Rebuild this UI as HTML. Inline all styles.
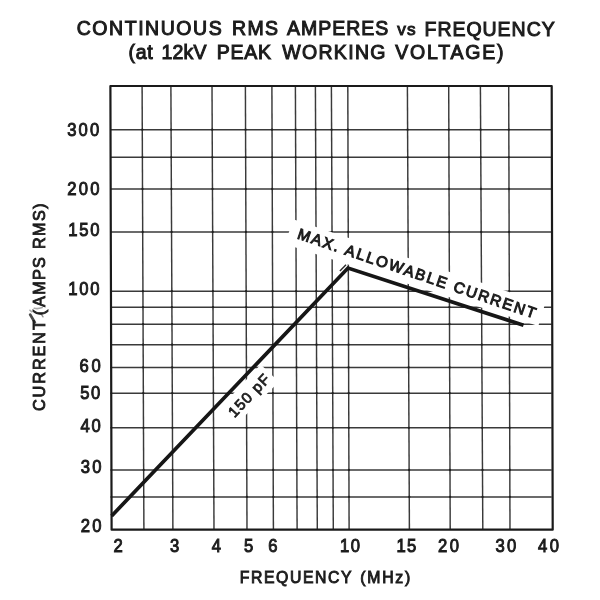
<!DOCTYPE html>
<html><head><meta charset="utf-8"><title>Continuous RMS Amperes vs Frequency</title>
<style>html,body{margin:0;padding:0;background:#fff;width:600px;height:600px;overflow:hidden}svg{display:block;filter:blur(0.35px)}</style>
</head><body>
<svg width="600" height="600" viewBox="0 0 600 600">
<g stroke="#3a3a3a" stroke-width="1.45"><line x1="142.1" y1="86.0" x2="143.9" y2="529.7"/><line x1="170.9" y1="86.0" x2="172.9" y2="529.7"/><line x1="212.0" y1="86.0" x2="214.0" y2="529.7"/><line x1="245.4" y1="86.0" x2="247.0" y2="529.7"/><line x1="271.9" y1="86.0" x2="273.4" y2="529.7"/><line x1="295.4" y1="86.0" x2="297.1" y2="529.7"/><line x1="315.4" y1="86.0" x2="317.3" y2="529.7"/><line x1="331.4" y1="86.0" x2="333.3" y2="529.7"/><line x1="347.8" y1="86.0" x2="349.1" y2="529.7"/><line x1="407.4" y1="86.0" x2="409.4" y2="529.7"/><line x1="448.7" y1="86.0" x2="450.2" y2="529.7"/><line x1="480.4" y1="86.0" x2="482.8" y2="529.7"/><line x1="508.7" y1="86.0" x2="510.0" y2="529.7"/><line x1="110.4" y1="129.7" x2="551.7" y2="129.7"/><line x1="110.4" y1="157.3" x2="551.7" y2="157.3"/><line x1="110.4" y1="189.0" x2="551.7" y2="189.0"/><line x1="110.4" y1="232.0" x2="551.7" y2="232.0"/><line x1="110.4" y1="291.2" x2="551.7" y2="291.2"/><line x1="110.4" y1="307.2" x2="551.7" y2="307.2"/><line x1="110.4" y1="324.2" x2="551.7" y2="324.2"/><line x1="110.4" y1="344.7" x2="551.7" y2="344.7"/><line x1="110.4" y1="367.4" x2="551.7" y2="367.4"/><line x1="110.4" y1="393.2" x2="551.7" y2="393.2"/><line x1="110.4" y1="427.8" x2="551.7" y2="427.8"/><line x1="110.4" y1="470.0" x2="551.7" y2="470.0"/><line x1="110.4" y1="496.9" x2="551.7" y2="496.9"/></g>
<g fill="#202020"><circle cx="142.3" cy="129.7" r="1.15"/><circle cx="142.4" cy="157.3" r="1.15"/><circle cx="142.5" cy="189.0" r="1.15"/><circle cx="142.7" cy="232.0" r="1.15"/><circle cx="142.9" cy="291.2" r="1.15"/><circle cx="143.0" cy="307.2" r="1.15"/><circle cx="143.1" cy="324.2" r="1.15"/><circle cx="143.1" cy="344.7" r="1.15"/><circle cx="143.2" cy="367.4" r="1.15"/><circle cx="143.3" cy="393.2" r="1.15"/><circle cx="143.5" cy="427.8" r="1.15"/><circle cx="143.7" cy="470.0" r="1.15"/><circle cx="143.8" cy="496.9" r="1.15"/><circle cx="171.1" cy="129.7" r="1.15"/><circle cx="171.2" cy="157.3" r="1.15"/><circle cx="171.4" cy="189.0" r="1.15"/><circle cx="171.6" cy="232.0" r="1.15"/><circle cx="171.8" cy="291.2" r="1.15"/><circle cx="171.9" cy="307.2" r="1.15"/><circle cx="172.0" cy="324.2" r="1.15"/><circle cx="172.1" cy="344.7" r="1.15"/><circle cx="172.2" cy="367.4" r="1.15"/><circle cx="172.3" cy="393.2" r="1.15"/><circle cx="172.4" cy="427.8" r="1.15"/><circle cx="172.6" cy="470.0" r="1.15"/><circle cx="172.8" cy="496.9" r="1.15"/><circle cx="212.2" cy="129.7" r="1.15"/><circle cx="212.3" cy="157.3" r="1.15"/><circle cx="212.5" cy="189.0" r="1.15"/><circle cx="212.7" cy="232.0" r="1.15"/><circle cx="212.9" cy="291.2" r="1.15"/><circle cx="213.0" cy="307.2" r="1.15"/><circle cx="213.1" cy="324.2" r="1.15"/><circle cx="213.2" cy="344.7" r="1.15"/><circle cx="213.3" cy="367.4" r="1.15"/><circle cx="213.4" cy="393.2" r="1.15"/><circle cx="213.5" cy="427.8" r="1.15"/><circle cx="213.7" cy="470.0" r="1.15"/><circle cx="213.9" cy="496.9" r="1.15"/><circle cx="245.6" cy="129.7" r="1.15"/><circle cx="245.7" cy="157.3" r="1.15"/><circle cx="245.8" cy="189.0" r="1.15"/><circle cx="245.9" cy="232.0" r="1.15"/><circle cx="246.1" cy="291.2" r="1.15"/><circle cx="246.2" cy="307.2" r="1.15"/><circle cx="246.3" cy="324.2" r="1.15"/><circle cx="246.3" cy="344.7" r="1.15"/><circle cx="246.4" cy="367.4" r="1.15"/><circle cx="246.5" cy="393.2" r="1.15"/><circle cx="246.6" cy="427.8" r="1.15"/><circle cx="246.8" cy="470.0" r="1.15"/><circle cx="246.9" cy="496.9" r="1.15"/><circle cx="272.0" cy="129.7" r="1.15"/><circle cx="272.1" cy="157.3" r="1.15"/><circle cx="272.2" cy="189.0" r="1.15"/><circle cx="272.4" cy="232.0" r="1.15"/><circle cx="272.6" cy="291.2" r="1.15"/><circle cx="272.6" cy="307.2" r="1.15"/><circle cx="272.7" cy="324.2" r="1.15"/><circle cx="272.8" cy="344.7" r="1.15"/><circle cx="272.9" cy="367.4" r="1.15"/><circle cx="272.9" cy="393.2" r="1.15"/><circle cx="273.1" cy="427.8" r="1.15"/><circle cx="273.2" cy="470.0" r="1.15"/><circle cx="273.3" cy="496.9" r="1.15"/><circle cx="295.6" cy="129.7" r="1.15"/><circle cx="295.7" cy="157.3" r="1.15"/><circle cx="295.8" cy="189.0" r="1.15"/><circle cx="296.0" cy="232.0" r="1.15"/><circle cx="296.2" cy="291.2" r="1.15"/><circle cx="296.2" cy="307.2" r="1.15"/><circle cx="296.3" cy="324.2" r="1.15"/><circle cx="296.4" cy="344.7" r="1.15"/><circle cx="296.5" cy="367.4" r="1.15"/><circle cx="296.6" cy="393.2" r="1.15"/><circle cx="296.7" cy="427.8" r="1.15"/><circle cx="296.9" cy="470.0" r="1.15"/><circle cx="297.0" cy="496.9" r="1.15"/><circle cx="315.6" cy="129.7" r="1.15"/><circle cx="315.7" cy="157.3" r="1.15"/><circle cx="315.8" cy="189.0" r="1.15"/><circle cx="316.0" cy="232.0" r="1.15"/><circle cx="316.3" cy="291.2" r="1.15"/><circle cx="316.3" cy="307.2" r="1.15"/><circle cx="316.4" cy="324.2" r="1.15"/><circle cx="316.5" cy="344.7" r="1.15"/><circle cx="316.6" cy="367.4" r="1.15"/><circle cx="316.7" cy="393.2" r="1.15"/><circle cx="316.9" cy="427.8" r="1.15"/><circle cx="317.0" cy="470.0" r="1.15"/><circle cx="317.2" cy="496.9" r="1.15"/><circle cx="331.6" cy="129.7" r="1.15"/><circle cx="331.7" cy="157.3" r="1.15"/><circle cx="331.8" cy="189.0" r="1.15"/><circle cx="332.0" cy="232.0" r="1.15"/><circle cx="332.3" cy="291.2" r="1.15"/><circle cx="332.3" cy="307.2" r="1.15"/><circle cx="332.4" cy="324.2" r="1.15"/><circle cx="332.5" cy="344.7" r="1.15"/><circle cx="332.6" cy="367.4" r="1.15"/><circle cx="332.7" cy="393.2" r="1.15"/><circle cx="332.9" cy="427.8" r="1.15"/><circle cx="333.0" cy="470.0" r="1.15"/><circle cx="333.2" cy="496.9" r="1.15"/><circle cx="347.9" cy="129.7" r="1.15"/><circle cx="348.0" cy="157.3" r="1.15"/><circle cx="348.1" cy="189.0" r="1.15"/><circle cx="348.2" cy="232.0" r="1.15"/><circle cx="348.4" cy="291.2" r="1.15"/><circle cx="348.4" cy="307.2" r="1.15"/><circle cx="348.5" cy="324.2" r="1.15"/><circle cx="348.6" cy="344.7" r="1.15"/><circle cx="348.6" cy="367.4" r="1.15"/><circle cx="348.7" cy="393.2" r="1.15"/><circle cx="348.8" cy="427.8" r="1.15"/><circle cx="348.9" cy="470.0" r="1.15"/><circle cx="349.0" cy="496.9" r="1.15"/><circle cx="407.6" cy="129.7" r="1.15"/><circle cx="407.7" cy="157.3" r="1.15"/><circle cx="407.9" cy="189.0" r="1.15"/><circle cx="408.1" cy="232.0" r="1.15"/><circle cx="408.3" cy="291.2" r="1.15"/><circle cx="408.4" cy="307.2" r="1.15"/><circle cx="408.5" cy="324.2" r="1.15"/><circle cx="408.6" cy="344.7" r="1.15"/><circle cx="408.7" cy="367.4" r="1.15"/><circle cx="408.8" cy="393.2" r="1.15"/><circle cx="408.9" cy="427.8" r="1.15"/><circle cx="409.1" cy="470.0" r="1.15"/><circle cx="409.3" cy="496.9" r="1.15"/><circle cx="448.8" cy="129.7" r="1.15"/><circle cx="448.9" cy="157.3" r="1.15"/><circle cx="449.0" cy="189.0" r="1.15"/><circle cx="449.2" cy="232.0" r="1.15"/><circle cx="449.4" cy="291.2" r="1.15"/><circle cx="449.4" cy="307.2" r="1.15"/><circle cx="449.5" cy="324.2" r="1.15"/><circle cx="449.6" cy="344.7" r="1.15"/><circle cx="449.7" cy="367.4" r="1.15"/><circle cx="449.7" cy="393.2" r="1.15"/><circle cx="449.9" cy="427.8" r="1.15"/><circle cx="450.0" cy="470.0" r="1.15"/><circle cx="450.1" cy="496.9" r="1.15"/><circle cx="480.6" cy="129.7" r="1.15"/><circle cx="480.8" cy="157.3" r="1.15"/><circle cx="481.0" cy="189.0" r="1.15"/><circle cx="481.2" cy="232.0" r="1.15"/><circle cx="481.5" cy="291.2" r="1.15"/><circle cx="481.6" cy="307.2" r="1.15"/><circle cx="481.7" cy="324.2" r="1.15"/><circle cx="481.8" cy="344.7" r="1.15"/><circle cx="481.9" cy="367.4" r="1.15"/><circle cx="482.1" cy="393.2" r="1.15"/><circle cx="482.2" cy="427.8" r="1.15"/><circle cx="482.5" cy="470.0" r="1.15"/><circle cx="482.6" cy="496.9" r="1.15"/><circle cx="508.8" cy="129.7" r="1.15"/><circle cx="508.9" cy="157.3" r="1.15"/><circle cx="509.0" cy="189.0" r="1.15"/><circle cx="509.1" cy="232.0" r="1.15"/><circle cx="509.3" cy="291.2" r="1.15"/><circle cx="509.3" cy="307.2" r="1.15"/><circle cx="509.4" cy="324.2" r="1.15"/><circle cx="509.5" cy="344.7" r="1.15"/><circle cx="509.5" cy="367.4" r="1.15"/><circle cx="509.6" cy="393.2" r="1.15"/><circle cx="509.7" cy="427.8" r="1.15"/><circle cx="509.8" cy="470.0" r="1.15"/><circle cx="509.9" cy="496.9" r="1.15"/></g>
<polygon points="293.2,219.2 545.0,304.1 538.3,326 285,244.1" fill="#fff"/>
<polygon points="218.3,409.8 260.7,364.4 278.9,381.8 235,425.7" fill="#fff"/>
<path d="M110.4 86.0 L551.7 86.0 L552.7 529.7 L111.6 529.7 Z" fill="none" stroke="#1a1a1a" stroke-width="2.2" stroke-linejoin="round"/>
<path d="M339.9,271.0 L346.0,264.8" stroke="#2a2a2a" stroke-width="1.4" fill="none"/>
<polyline points="111.6,516 348,268 523.5,325.2" fill="none" stroke="#161616" stroke-width="3.7" stroke-linejoin="miter"/>
<g fill="none" stroke-linecap="round"><path d="M34.2,308.3 Q38,309.3 42.2,307.6" stroke="#a8a8a8" stroke-width="1.6"/><path d="M30.2,314.6 L34.8,322.4" stroke="#4a4a4a" stroke-width="2.8"/><path d="M29.8,310.2 L31.8,311.8" stroke="#b0b0b0" stroke-width="1.5"/><path d="M41,313.6 L43,316.8" stroke="#909090" stroke-width="1.4"/></g>
<g font-family="Liberation Sans, Arial, sans-serif" fill="#1c1c1c" stroke="#1c1c1c" stroke-width="0.6">
<text x="76.70" y="34.53" font-size="19.5" letter-spacing="1.55" stroke-width="1.0">CONTINUOUS</text>
<text x="232.00" y="34.85" font-size="19.5" letter-spacing="1.35" stroke-width="1.0">RMS</text>
<text x="287.05" y="35.09" font-size="19.5" letter-spacing="0.96" stroke-width="1.0">AMPERES</text>
<text x="397.30" y="35.30" font-size="17.2" letter-spacing="1.20" stroke-width="1.0">vs</text>
<text x="424.50" y="35.55" font-size="19.5" letter-spacing="0.97" stroke-width="1.0">FREQUENCY</text>
<text x="128.55" y="58.50" font-size="19.5" letter-spacing="0.72" stroke-width="1.0">(at</text>
<text x="161.50" y="58.56" font-size="19.5" letter-spacing="0.17" stroke-width="1.0">12kV</text>
<text x="216.70" y="58.65" font-size="19.5" letter-spacing="0.75" stroke-width="1.0">PEAK</text>
<text x="282.20" y="58.77" font-size="19.5" letter-spacing="1.33" stroke-width="1.0">WORKING</text>
<text x="395.30" y="58.93" font-size="19.5" letter-spacing="1.80" stroke-width="1.0">VOLTAGE)</text>
<text transform="translate(67.25,136.40) scale(0.9,1)" font-size="18.5" letter-spacing="2.36" stroke-width="1.0">300</text>
<text transform="translate(67.30,195.10) scale(0.9,1)" font-size="18.5" letter-spacing="2.50" stroke-width="1.0">200</text>
<text transform="translate(68.25,236.40) scale(0.9,1)" font-size="18.5" letter-spacing="1.97" stroke-width="1.0">150</text>
<text transform="translate(68.25,294.70) scale(0.9,1)" font-size="18.5" letter-spacing="1.97" stroke-width="1.0">100</text>
<text transform="translate(79.50,371.60) scale(0.9,1)" font-size="18.5" letter-spacing="2.94" stroke-width="1.0">60</text>
<text transform="translate(80.15,398.90) scale(0.9,1)" font-size="18.5" letter-spacing="1.78" stroke-width="1.0">50</text>
<text transform="translate(80.40,431.90) scale(0.9,1)" font-size="18.5" letter-spacing="1.94" stroke-width="1.0">40</text>
<text transform="translate(80.75,472.90) scale(0.9,1)" font-size="18.5" letter-spacing="2.56" stroke-width="1.0">30</text>
<text transform="translate(80.80,531.60) scale(0.9,1)" font-size="18.5" letter-spacing="2.50" stroke-width="1.0">20</text>
<text transform="translate(113.50,551.50) scale(0.9,1)" font-size="18.5" stroke-width="1.0">2</text>
<text transform="translate(170.05,551.50) scale(0.9,1)" font-size="18.5" stroke-width="1.0">3</text>
<text transform="translate(211.70,551.60) scale(0.9,1)" font-size="18.5" stroke-width="1.0">4</text>
<text transform="translate(244.05,551.60) scale(0.9,1)" font-size="18.5" stroke-width="1.0">5</text>
<text transform="translate(268.20,551.60) scale(0.9,1)" font-size="18.5" stroke-width="1.0">6</text>
<text transform="translate(339.95,552.00) scale(0.9,1)" font-size="18.5" letter-spacing="1.72" stroke-width="1.0">10</text>
<text transform="translate(396.50,552.00) scale(0.9,1)" font-size="18.5" letter-spacing="1.39" stroke-width="1.0">15</text>
<text transform="translate(438.10,552.40) scale(0.9,1)" font-size="18.5" letter-spacing="2.72" stroke-width="1.0">20</text>
<text transform="translate(495.45,552.40) scale(0.9,1)" font-size="18.5" letter-spacing="2.56" stroke-width="1.0">30</text>
<text transform="translate(538.00,552.40) scale(0.9,1)" font-size="18.5" letter-spacing="2.72" stroke-width="1.0">40</text>
<text x="239.75" y="582.80" font-size="15.8" letter-spacing="1.57" stroke-width="0.9">FREQUENCY</text>
<text x="360.30" y="582.80" font-size="15.8" letter-spacing="1.75" stroke-width="0.9">(MHz)</text>
<text x="-411.10" y="44.70" font-size="16.2" letter-spacing="1.98" stroke-width="0.9" transform="rotate(-90)">CURRENT</text>
<text x="-315.30" y="44.70" font-size="16.2" stroke-width="0.9" transform="rotate(-90)">(</text>
<text x="-307.00" y="44.70" font-size="16.2" letter-spacing="1.33" stroke-width="0.9" transform="rotate(-90)">AMPS</text>
<text x="-249.00" y="44.70" font-size="16.2" letter-spacing="1.42" stroke-width="0.9" transform="rotate(-90)">RMS)</text>
<text x="-0.75" y="0.00" font-size="15.2" letter-spacing="1.91" stroke-width="1.0" transform="translate(297.1,238.4) rotate(18.7)">MAX. ALLOWABLE CURRENT</text>
<text x="-141.15" y="458.20" font-size="15" letter-spacing="1.17" stroke-width="0.8" transform="rotate(-46.4)">150 pF</text>
</g>
</svg>
</body></html>
